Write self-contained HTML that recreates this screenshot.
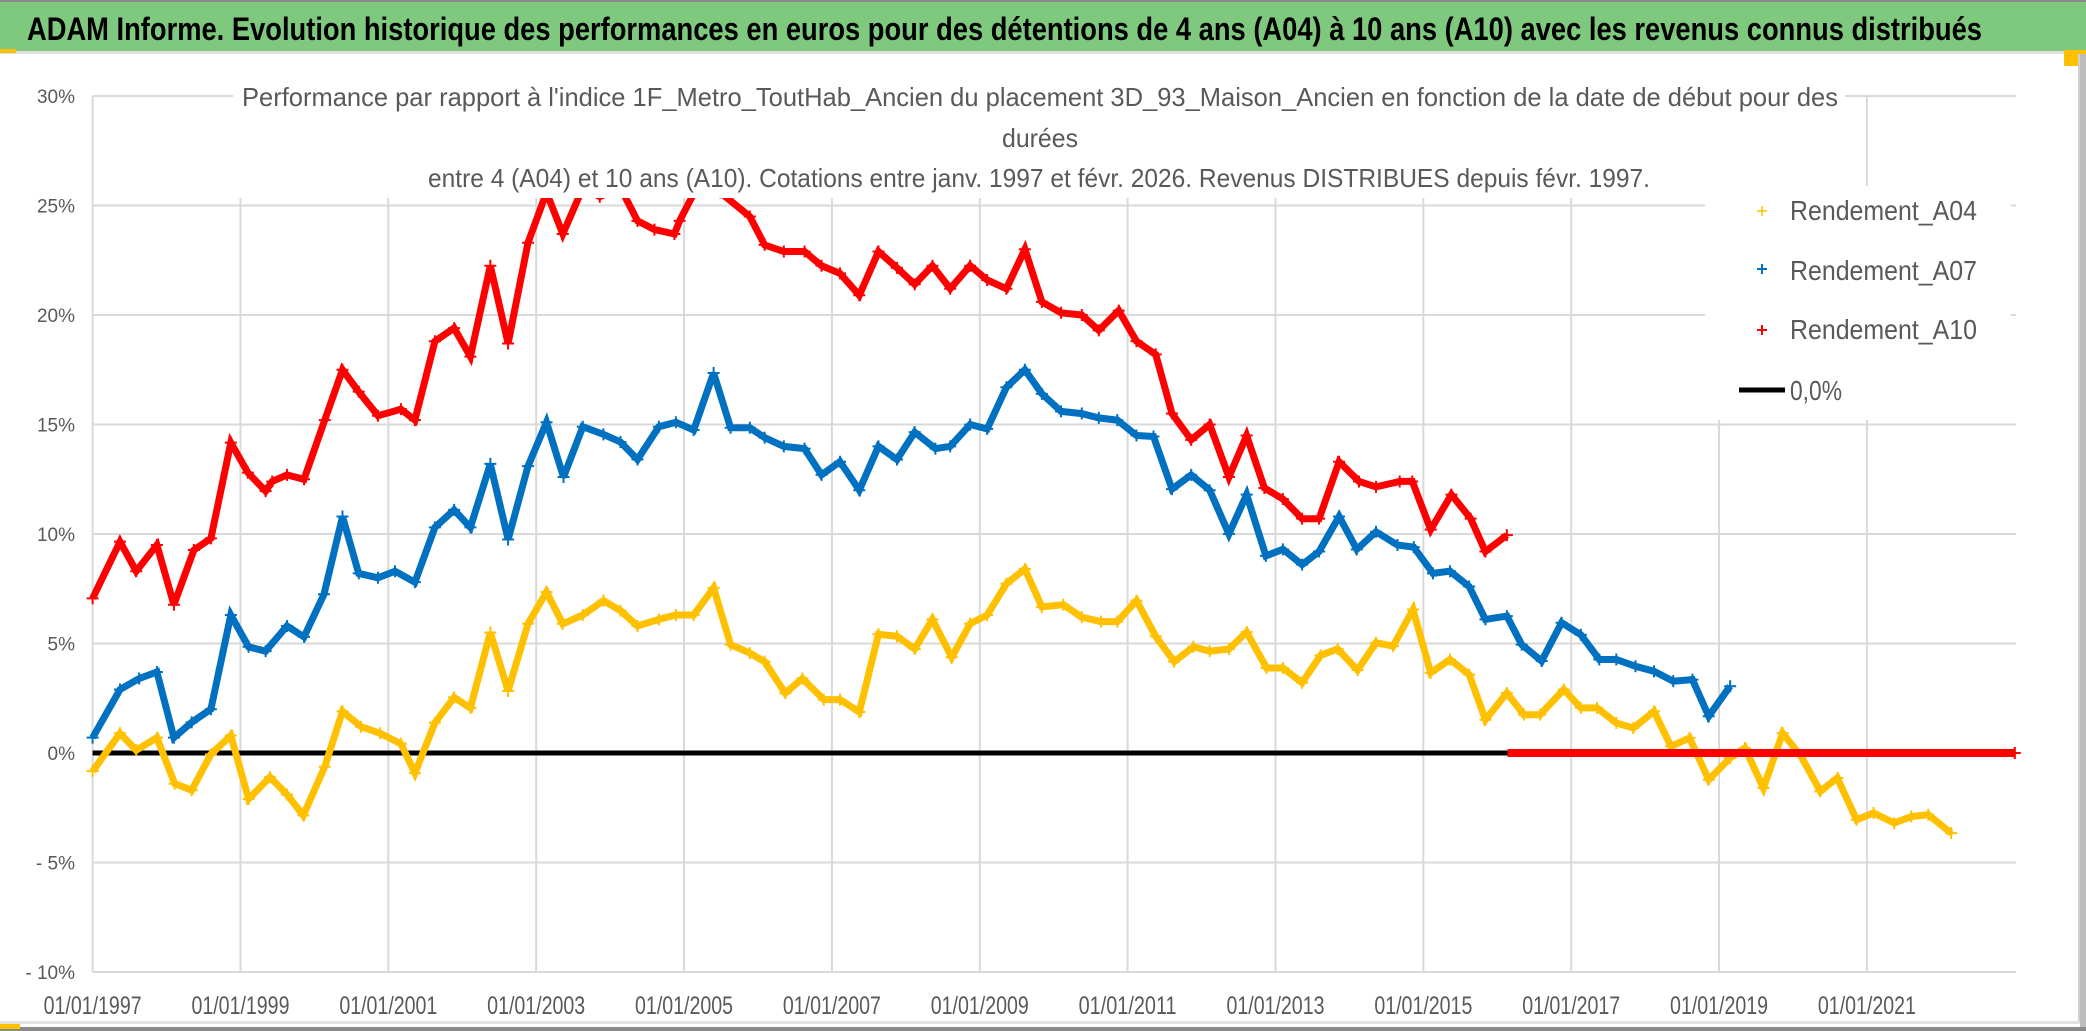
<!DOCTYPE html>
<html><head><meta charset="utf-8">
<style>
html,body{margin:0;padding:0;background:#fff;}
svg{display:block;}
text{font-family:"Liberation Sans",sans-serif;}
</style></head>
<body>
<svg id="chart" width="2086" height="1031" viewBox="0 0 2086 1031" xmlns="http://www.w3.org/2000/svg">
  <rect x="0" y="0" width="2086" height="1031" fill="#fff"/>
  <rect x="0" y="0" width="2086" height="51" fill="#7EC97E"/>
  <rect x="0" y="0" width="2086" height="2" fill="#8a8a8a"/>
  <rect x="0" y="51" width="2080" height="3" fill="#e0e0e0"/>
  <rect x="0" y="49" width="16" height="4" fill="#FFC000"/>
  <rect x="2064" y="50" width="22" height="16" fill="#FFC000"/>
  <rect x="2078" y="54" width="2" height="970" fill="#d0d0d0"/>
  <rect x="2080" y="54" width="6" height="977" fill="#bdbdbd"/>
  <rect x="0" y="1021" width="2080" height="3" fill="#e3e3e3"/>
  <rect x="0" y="1027" width="2086" height="4" fill="#8a8a8a"/>
  <rect x="0" y="1024" width="20" height="5" fill="#FFC000"/>
  <text x="27" y="40" font-size="32" font-weight="bold" fill="#000" textLength="1955" lengthAdjust="spacingAndGlyphs">ADAM Informe. Evolution historique des performances en euros pour des détentions de 4 ans (A04) à 10 ans (A10) avec les revenus connus distribués</text>
  <g id="grid"></g>
  <g id="axes"></g>
  <g id="series"></g>
  <rect x="233" y="80" width="1612" height="118" fill="#fff"/>
  <text x="242" y="106" font-size="26" fill="#595959" textLength="1596" lengthAdjust="spacingAndGlyphs">Performance par rapport à l'indice 1F_Metro_ToutHab_Ancien  du placement 3D_93_Maison_Ancien en fonction de la date de début pour des</text>
  <text x="1002" y="147" font-size="26" fill="#595959" textLength="76" lengthAdjust="spacingAndGlyphs">durées</text>
  <text x="428" y="187" font-size="26" fill="#595959" textLength="1222" lengthAdjust="spacingAndGlyphs">entre 4 (A04) et 10 ans (A10). Cotations entre janv. 1997 et févr. 2026. Revenus DISTRIBUES depuis févr. 1997.</text>
  <g>
    <rect x="1705" y="186" width="306" height="234" fill="#fff"/>
    <g>
      <path d="M1757 211h10M1762 206v10" stroke="#FFC000" stroke-width="1.5"/>
      <text x="1790" y="220" font-size="28" fill="#595959" textLength="187" lengthAdjust="spacingAndGlyphs">Rendement_A04</text>
    </g>
    <g>
      <path d="M1757 269h10M1762 264v10" stroke="#0070C0" stroke-width="2"/>
      <text x="1790" y="280" font-size="28" fill="#595959" textLength="187" lengthAdjust="spacingAndGlyphs">Rendement_A07</text>
    </g>
    <g>
      <path d="M1757 330h10M1762 325v10" stroke="#FF0000" stroke-width="2"/>
      <text x="1790" y="339" font-size="28" fill="#595959" textLength="187" lengthAdjust="spacingAndGlyphs">Rendement_A10</text>
    </g>
    <g>
      <line x1="1739" y1="390" x2="1785" y2="390" stroke="#000" stroke-width="5"/>
      <text x="1790" y="400" font-size="28" fill="#595959" textLength="52" lengthAdjust="spacingAndGlyphs">0,0%</text>
    </g>
  </g>
</svg>
<script>
const yTicks = [30, 25, 20, 15, 10, 5, 0, -5, -10];
const yTickLabels = ["30%", "25%", "20%", "15%", "10%", "5%", "0%", "- 5%", "- 10%"];
const xTicks = [1997, 1999, 2001, 2003, 2005, 2007, 2009, 2011, 2013, 2015, 2017, 2019, 2021];
const xTickLabels = ["01/01/1997","01/01/1999","01/01/2001","01/01/2003","01/01/2005","01/01/2007","01/01/2009","01/01/2011","01/01/2013","01/01/2015","01/01/2017","01/01/2019","01/01/2021"];

const a04Dates = [1997.0,1997.37,1997.59,1997.87,1998.11,1998.34,1998.6,1998.87,1999.11,1999.4,1999.63,1999.85,2000.14,2000.38,2000.63,2000.89,2001.17,2001.36,2001.63,2001.89,2002.11,2002.38,2002.62,2002.89,2003.14,2003.36,2003.63,2003.91,2004.14,2004.37,2004.66,2004.89,2005.13,2005.4,2005.63,2005.89,2006.09,2006.37,2006.6,2006.89,2007.11,2007.37,2007.63,2007.88,2008.12,2008.36,2008.62,2008.87,2009.1,2009.36,2009.61,2009.84,2010.13,2010.38,2010.64,2010.86,2011.12,2011.38,2011.63,2011.89,2012.11,2012.37,2012.61,2012.88,2013.1,2013.36,2013.61,2013.84,2014.11,2014.36,2014.59,2014.86,2015.1,2015.36,2015.62,2015.84,2016.13,2016.36,2016.58,2016.9,2017.13,2017.35,2017.61,2017.84,2018.12,2018.35,2018.6,2018.86,2019.15,2019.35,2019.6,2019.86,2020.11,2020.37,2020.6,2020.86,2021.09,2021.37,2021.6,2021.83,2022.14,2022.17,2023.0];
const a04Values = [-0.83,0.9,0.13,0.7,-1.4,-1.7,-0.06,0.8,-2.1,-1.1,-1.9,-2.85,-0.63,1.9,1.2,0.9,0.42,-0.92,1.38,2.54,2.06,5.5,2.83,5.9,7.35,5.9,6.3,6.96,6.5,5.8,6.1,6.3,6.3,7.54,4.95,4.56,4.17,2.73,3.4,2.44,2.44,1.87,5.42,5.33,4.75,6.1,4.37,5.9,6.3,7.73,8.4,6.67,6.77,6.2,6.0,6.0,6.96,5.33,4.17,4.85,4.65,4.75,5.52,3.88,3.88,3.21,4.46,4.75,3.79,5.03,4.88,6.55,3.66,4.27,3.58,1.52,2.74,1.75,1.75,2.9,2.06,2.06,1.37,1.14,1.9,0.3,0.69,-1.22,-0.23,0.23,-1.6,0.91,-0.15,-1.75,-1.14,-3.05,-2.74,-3.2,-2.9,-2.82,-3.66,null,0];

const a07Dates = [1997.0,1997.37,1997.63,1997.87,1998.1,1998.34,1998.6,1998.87,1999.11,1999.34,1999.63,1999.86,2000.13,2000.38,2000.6,2000.86,2001.09,2001.36,2001.63,2001.89,2002.11,2002.38,2002.62,2002.89,2003.14,2003.37,2003.63,2003.91,2004.14,2004.37,2004.66,2004.89,2005.13,2005.4,2005.63,2005.89,2006.09,2006.35,2006.63,2006.86,2007.11,2007.37,2007.63,2007.88,2008.12,2008.4,2008.6,2008.87,2009.1,2009.36,2009.61,2009.84,2010.1,2010.38,2010.61,2010.86,2011.12,2011.35,2011.6,2011.86,2012.11,2012.37,2012.61,2012.87,2013.1,2013.36,2013.59,2013.86,2014.1,2014.36,2014.65,2014.87,2015.13,2015.36,2015.62,2015.84,2016.13,2016.33,2016.6,2016.87,2017.13,2017.38,2017.61,2017.87,2018.12,2018.38,2018.64,2018.86,2019.15];
const a07Values = [0.7,2.9,3.4,3.7,0.7,1.4,2.0,6.3,4.85,4.65,5.8,5.3,7.25,10.8,8.2,8.0,8.3,7.8,10.3,11.1,10.3,13.2,9.75,13.1,15.1,12.6,14.9,14.55,14.2,13.4,14.9,15.1,14.75,17.35,14.85,14.85,14.4,14.0,13.9,12.7,13.3,12.0,14.0,13.4,14.65,13.9,14.0,15.0,14.8,16.7,17.5,16.4,15.6,15.5,15.3,15.2,14.5,14.45,12.05,12.7,12.0,10.0,11.8,9.0,9.3,8.6,9.2,10.8,9.3,10.1,9.5,9.4,8.2,8.3,7.6,6.1,6.25,4.95,4.2,5.95,5.4,4.27,4.27,3.96,3.73,3.28,3.35,1.68,3.05];

const a10Dates = [1997.0,1997.37,1997.59,1997.87,1998.1,1998.37,1998.6,1998.87,1999.1,1999.34,1999.43,1999.63,1999.86,2000.14,2000.38,2000.6,2000.86,2001.17,2001.36,2001.63,2001.89,2002.11,2002.38,2002.62,2002.89,2003.14,2003.36,2003.63,2003.86,2004.14,2004.37,2004.6,2004.87,2004.94,2005.17,2005.49,2005.89,2006.09,2006.35,2006.63,2006.86,2007.11,2007.37,2007.63,2007.88,2008.12,2008.36,2008.6,2008.87,2009.1,2009.36,2009.61,2009.84,2010.1,2010.38,2010.61,2010.88,2011.12,2011.38,2011.6,2011.86,2012.11,2012.37,2012.61,2012.85,2013.1,2013.36,2013.59,2013.86,2014.13,2014.36,2014.68,2014.85,2015.1,2015.38,2015.64,2015.84,2016.13,2016.14,2023.0];
const a10Values = [7.06,9.65,8.3,9.5,6.77,9.27,9.8,14.17,12.8,11.96,12.4,12.7,12.5,15.2,17.5,16.5,15.4,15.7,15.2,18.8,19.4,18.1,22.25,18.7,23.3,25.6,23.7,25.8,25.4,25.8,24.3,23.9,23.7,24.3,25.8,25.6,24.5,23.2,22.9,22.9,22.25,21.9,20.9,22.9,22.15,21.4,22.25,21.2,22.25,21.6,21.2,23.0,20.6,20.1,20.0,19.3,20.2,18.8,18.2,15.5,14.3,15.0,12.6,14.5,12.1,11.6,10.7,10.7,13.3,12.4,12.15,12.4,12.4,10.2,11.8,10.7,9.2,9.95,null,0];

const zeroDates = [1997.0, 2023.0];
const zeroValues = [0, 0];

const X0 = 92.6, PX_PER_YEAR = 73.93, Y0 = 753, PX_PER_PCT = 21.9;
function xScale(d){ return X0 + (d - 1997) * PX_PER_YEAR; }
function yScale(v){ return Y0 - v * PX_PER_PCT; }
const NS = "http://www.w3.org/2000/svg";
function mk(tag, attrs, parent){ const e = document.createElementNS(NS, tag); for (const k in attrs) e.setAttribute(k, attrs[k]); parent.appendChild(e); return e; }

const grid = document.getElementById('grid');
const axes = document.getElementById('axes');
const PLOT_R = 2016;
yTicks.forEach((t, i) => {
  const gl = mk('line', {x1: X0, x2: PLOT_R, y1: yScale(t), y2: yScale(t), stroke: '#d9d9d9', 'stroke-width': 2}, grid);
  
  
  const lb = mk('text', {x: 75, y: yScale(t) + 7, 'font-size': 19, fill: '#595959', 'text-anchor': 'end'}, axes);
  lb.textContent = yTickLabels[i];
  
  
});
xTicks.forEach((t, i) => {
  const gl = mk('line', {x1: xScale(t), x2: xScale(t), y1: yScale(30), y2: yScale(-10), stroke: '#d9d9d9', 'stroke-width': 2}, grid);
  
  
  const lb = mk('text', {x: xScale(t) - 49, y: 1014, 'font-size': 25, fill: '#595959', textLength: 98, lengthAdjust: 'spacingAndGlyphs'}, axes);
  lb.textContent = xTickLabels[i];
  
  
});

const seriesG = document.getElementById('series');
function drawSeries(dates, values, color, name, width, markers){
  const g = mk('g', {}, seriesG);
  
  
  let segs = [], cur = [];
  dates.forEach((d, i) => {
    const v = values[i];
    if (v === null) { if (cur.length) segs.push(cur); cur = []; return; }
    cur.push([xScale(d), yScale(v)]);
  });
  if (cur.length) segs.push(cur);
  segs.forEach(s => {
    const pl = mk('polyline', {points: s.map(p => p[0].toFixed(1) + ',' + p[1].toFixed(1)).join(' '), fill: 'none', stroke: color, 'stroke-width': width, 'stroke-linejoin': 'miter', 'stroke-miterlimit': 3}, g);
    
    
    if (markers) s.forEach(p => {
      const m = mk('path', {d: `M${p[0]-6} ${p[1]}h12M${p[0]} ${p[1]-6}v12`, stroke: color, 'stroke-width': 2}, g);
      
      
    });
  });
}
drawSeries(zeroDates, zeroValues, '#000', 'zero-line', 5, false);
drawSeries(a04Dates, a04Values, '#FFC000', 'series-a04', 7, true);
drawSeries(a07Dates, a07Values, '#0070C0', 'series-a07', 7, true);
drawSeries(a10Dates, a10Values, '#FF0000', 'series-a10', 7, true);
const tail = mk('line', {x1: xScale(2016.14), x2: xScale(2023.0), y1: yScale(0), y2: yScale(0), stroke: '#FF0000', 'stroke-width': 8}, seriesG);


</script>
</body></html>
